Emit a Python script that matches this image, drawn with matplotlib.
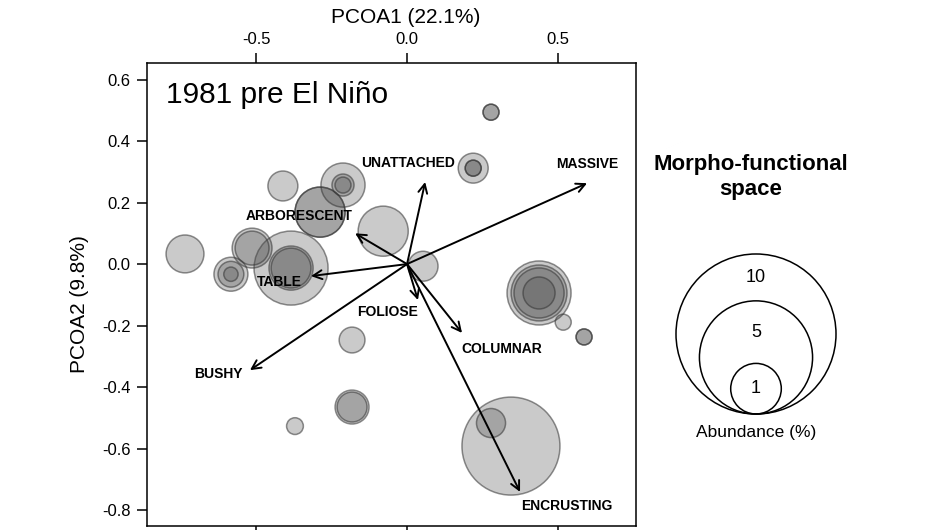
import numpy as np
import matplotlib
matplotlib.use("Agg")
from matplotlib import pyplot as plt
from matplotlib.patches import Circle

plt.rcParams["font.family"] = ["Liberation Sans", "DejaVu Sans"]
plt.rcParams["axes.unicode_minus"] = False

# site positions in PCoA space and relative abundance (%); repeated points overlap
site_x = [0.278, 0.278,
          0.219, 0.219, 0.219,
          -0.411,
          -0.212, -0.212, -0.212,
          -0.288, -0.288,
          -0.079,
          -0.735,
          -0.513, -0.513,
          -0.384, -0.384, -0.384,
          -0.583, -0.583, -0.583,
          0.053,
          0.437, 0.437, 0.437, 0.437,
          0.517,
          0.586, 0.586,
          -0.182,
          -0.182, -0.182,
          -0.371,
          0.344,
          0.278]
site_y = [0.494, 0.494,
          0.312, 0.312, 0.312,
          0.254,
          0.257, 0.257, 0.257,
          0.169, 0.169,
          0.107,
          0.033,
          0.052, 0.052,
          -0.013, -0.013, -0.013,
          -0.033, -0.033, -0.033,
          -0.007,
          -0.094, -0.094, -0.094, -0.094,
          -0.189,
          -0.237, -0.237,
          -0.247,
          -0.465, -0.465,
          -0.527,
          -0.592,
          -0.517]
site_abund = [0.10, 0.10,
              0.35, 0.10, 0.10,
              0.35,
              0.76, 0.19, 0.10,
              0.98, 0.98,
              0.98,
              0.56,
              0.62, 0.45,
              2.14, 0.76, 0.62,
              0.45, 0.26, 0.08,
              0.35,
              1.60, 1.22, 0.98, 0.40,
              0.10,
              0.10, 0.10,
              0.26,
              0.45, 0.35,
              0.11,
              3.75,
              0.33]

# trait vectors
traits = ["MASSIVE", "UNATTACHED", "ARBORESCENT", "TABLE",
          "FOLIOSE", "COLUMNAR", "BUSHY", "ENCRUSTING"]
trait_x = [0.596, 0.060, -0.172, -0.318, 0.036, 0.182, -0.520, 0.374]
trait_y = [0.263, 0.267, 0.100, -0.039, -0.117, -0.224, -0.345, -0.741]
label_x = [0.596, 0.003, -0.358, -0.421, -0.066, 0.315, -0.626, 0.530]
label_y = [0.325, 0.328, 0.156, -0.059, -0.156, -0.276, -0.358, -0.787]

legend_abund = [10, 5, 1]

DPI = 100
PX_PER_SQRT_PCT = 25.3  # circle radius in pixels for 1 % abundance


def radius_px(a):
    return PX_PER_SQRT_PCT * np.sqrt(a)


fig = plt.figure(figsize=(9.5, 5.3), dpi=DPI)
ax = fig.add_axes([0.155, 0.0075, 0.5145, 0.8742])

order = np.argsort(site_abund)[::-1]
xs = np.array(site_x)[order]
ys = np.array(site_y)[order]
ab = np.array(site_abund)[order]
sizes = (2 * radius_px(ab) * 72 / DPI) ** 2
ax.scatter(xs, ys, s=sizes, facecolor=(0.29, 0.29, 0.29, 0.29),
           edgecolor=(0.2, 0.2, 0.2, 0.55), linewidth=1.1, zorder=2)

for name, tx, ty, lx, ly in zip(traits, trait_x, trait_y, label_x, label_y):
    ax.annotate("", xy=(tx, ty), xytext=(0, 0),
                arrowprops=dict(arrowstyle="->", lw=1.4, color="black",
                                mutation_scale=16, shrinkA=0, shrinkB=0),
                zorder=3)
    ax.text(lx, ly, name, ha="center", va="center", fontsize=10,
            fontweight="bold", zorder=4)

ax.set_xlim(-0.86, 0.758)
ax.set_ylim(-0.852, 0.655)
ax.set_xticks([-0.5, 0.0, 0.5])
ax.set_yticks([-0.8, -0.6, -0.4, -0.2, 0.0, 0.2, 0.4, 0.6])
ax.set_xticklabels(["-0.5", "0.0", "0.5"])
ax.set_yticklabels(["-0.8", "-0.6", "-0.4", "-0.2", "0.0", "0.2", "0.4", "0.6"])
ax.tick_params(axis="x", top=True, labeltop=True, bottom=True, labelbottom=False,
               direction="out", length=7, width=1.1, labelsize=12, pad=4)
ax.tick_params(axis="y", left=True, right=False, direction="out",
               length=7, width=1.1, labelsize=12, pad=5)
for sp in ax.spines.values():
    sp.set_linewidth(1.1)

ax.xaxis.set_label_position("top")
ax.set_xlabel("PCOA1 (22.1%)", fontsize=15)
ax.xaxis.set_label_coords(0.528, 1.085)
ax.set_ylabel("PCOA2 (9.8%)", fontsize=15)
ax.yaxis.set_label_coords(-0.119, 0.48)

ax.text(0.038, 0.912, "1981 pre El Niño", transform=ax.transAxes,
        fontsize=21.5, va="baseline", ha="left")

# abundance legend, drawn in pixel units
lax = fig.add_axes([640 / 950, 1 - 450 / 530, 240 / 950, 310 / 530])
lax.set_xlim(640, 880)
lax.set_ylim(450, 140)
lax.axis("off")
cx, base = 756, 414
radii = [radius_px(a) for a in legend_abund]
for i, (a, r) in enumerate(zip(legend_abund, radii)):
    lax.add_patch(Circle((cx, base - r), r, fill=False, lw=1.1, ec="black"))
    top = base - 2 * r
    nxt = base - 2 * radii[i + 1] if i + 1 < len(radii) else base
    lax.text(cx, (top + nxt) / 2, str(a), ha="center", va="center", fontsize=13)
lax.text(cx, 432, "Abundance (%)", ha="center", va="center", fontsize=12.5)

fig.text(751 / 950, 1 - 177 / 530, "Morpho-functional\nspace", ha="center",
         va="center", fontsize=16, fontweight="bold", linespacing=1.25)

fig.savefig("out.png", dpi=DPI)
